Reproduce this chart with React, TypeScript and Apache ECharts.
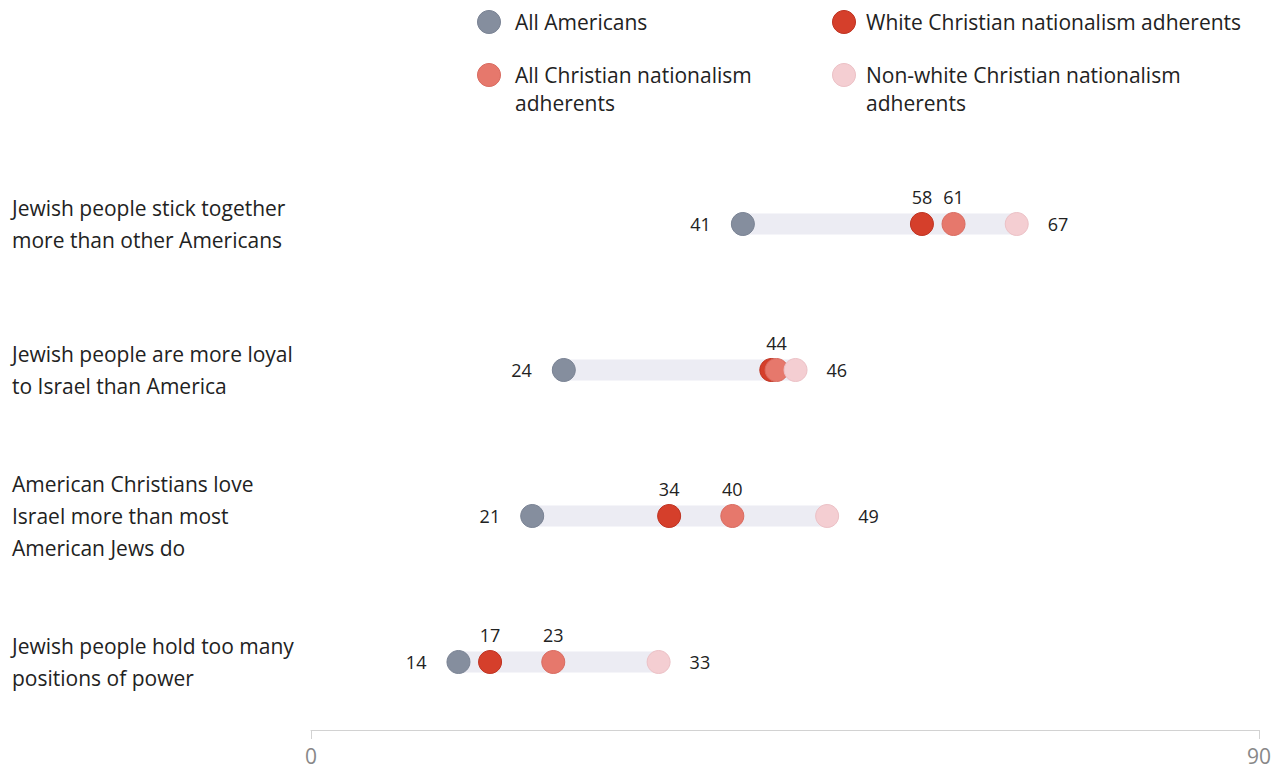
import React, { useEffect, useRef } from "react";
import * as echarts from "echarts";

const categories = [
  "Jewish people stick together\nmore than other Americans",
  "Jewish people are more loyal\nto Israel than America",
  "American Christians love\nIsrael more than most\nAmerican Jews do",
  "Jewish people hold too many\npositions of power",
];

const seriesNames = [
  "All Americans",
  "White Christian nationalism adherents",
  "All Christian nationalism adherents",
  "Non-white Christian nationalism adherents",
];

const allAmericans = [41, 24, 21, 14];
const whiteCN = [58, 43.7, 34, 17];
const allCN = [61, 44.2, 40, 23];
const nonWhiteCN = [67, 46, 49, 33];

const xTicks = [0, 90];

const colors = ["#858e9e", "#d53f2b", "#e6786c", "#f4ced2"];
const borders = ["#7a8394", "#bf3321", "#d96b60", "#ecc1c6"];

const FONT = "'Open Sans', 'Noto Sans', sans-serif";

export default function App() {
  const ref = useRef<HTMLDivElement>(null);

  useEffect(() => {
    document.body.style.margin = "0";
    if (!ref.current) return;
    const chart = echarts.init(ref.current, null, { renderer: "svg" });

    const groups = [allAmericans, whiteCN, allCN, nonWhiteCN];
    const rowMin = categories.map((_, i) => Math.min(...groups.map((g) => g[i])));
    const rowMax = categories.map((_, i) => Math.max(...groups.map((g) => g[i])));

    const labelFor = (s: number, i: number) => {
      const v = groups[s][i];
      const base = { show: true, fontSize: 18, color: "#222", fontFamily: FONT, formatter: (p: any) => String(Math.round(p.value[0])) };
      if (v === rowMin[i]) return { ...base, position: "left", distance: 20 };
      if (v === rowMax[i]) return { ...base, position: "right", distance: 19 };
      for (let t = s + 1; t < groups.length; t++) {
        const o = groups[t][i];
        if (o !== rowMin[i] && o !== rowMax[i] && Math.round(o) === Math.round(v)) {
          return { show: false };
        }
      }
      return { ...base, position: "top", distance: 6 };
    };

    const scatterSeries = groups.map((g, s) => ({
      type: "scatter",
      name: seriesNames[s],
      symbolSize: 23,
      z: 3 + s,
      itemStyle: { color: colors[s], borderColor: borders[s], borderWidth: 1, opacity: 1 },
      data: g.map((v, i) => ({ value: [v, i], label: labelFor(s, i) })),
    }));

    const legendPos = [
      { x: 489, y: 22, tx: 515 },
      { x: 844, y: 22, tx: 866 },
      { x: 489, y: 75, tx: 515 },
      { x: 844, y: 75, tx: 866 },
    ];
    const legendTexts = [
      "All Americans",
      "White Christian nationalism adherents",
      "All Christian nationalism\nadherents",
      "Non-white Christian nationalism\nadherents",
    ];

    const graphic: any[] = [];
    legendPos.forEach((p, k) => {
      graphic.push({
        type: "circle",
        shape: { cx: p.x, cy: p.y, r: 11.5 },
        style: { fill: colors[k], stroke: borders[k], lineWidth: 1 },
      });
      graphic.push({
        type: "text",
        x: p.tx,
        y: p.y - 14,
        style: {
          text: legendTexts[k],
          fontSize: 21,
          lineHeight: 28,
          fill: "#222",
          fontFamily: FONT,
          verticalAlign: "top",
          align: "left",
        },
      });
    });

    chart.setOption({
      animation: false,
      backgroundColor: "#fff",
      graphic,
      grid: { left: 311, right: 21, top: 151, bottom: 768 - 735, containLabel: false },
      xAxis: {
        type: "value",
        min: xTicks[0],
        max: xTicks[1],
        interval: xTicks[1] - xTicks[0],
        offset: -5,
        axisLine: { show: true, lineStyle: { color: "#d2d2d2", width: 1 } },
        axisTick: { show: true, length: 9, lineStyle: { color: "#d2d2d2" } },
        splitLine: { show: false },
        axisLabel: { color: "#888", fontSize: 21, fontFamily: FONT, margin: 15 },
      },
      yAxis: {
        type: "category",
        inverse: true,
        data: categories,
        axisLine: { show: false },
        axisTick: { show: false },
        splitLine: { show: false },
        axisLabel: {
          align: "left",
          margin: 299,
          fontSize: 21,
          lineHeight: 32,
          color: "#222",
          fontFamily: FONT,
        },
      },
      series: [
        {
          type: "bar",
          stack: "band",
          barWidth: 21,
          silent: true,
          itemStyle: { color: "transparent" },
          data: rowMin,
          z: 1,
        },
        {
          type: "bar",
          stack: "band",
          barWidth: 21,
          silent: true,
          itemStyle: { color: "#ececf3" },
          data: rowMax.map((m, i) => m - rowMin[i]),
          z: 1,
        },
        ...scatterSeries,
      ],
    });

    return () => chart.dispose();
  }, []);

  return <div ref={ref} style={{ width: 1280, height: 768 }} />;
}
